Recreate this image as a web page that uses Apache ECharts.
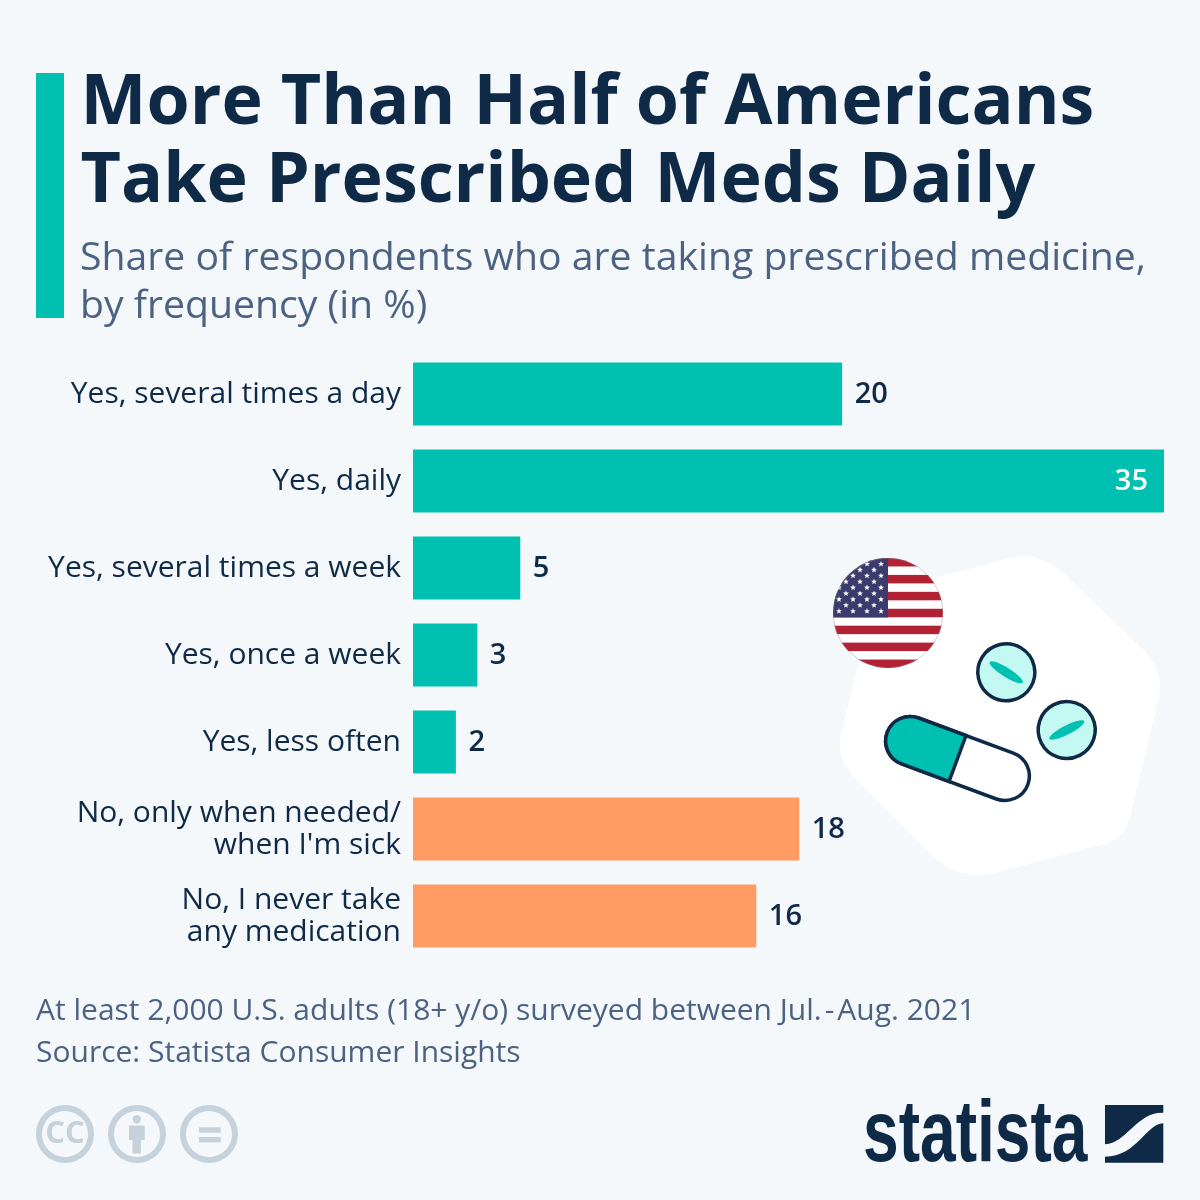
<!DOCTYPE html>
<html>
<head>
<meta charset="utf-8">
<title>More Than Half of Americans Take Prescribed Meds Daily</title>
<script src="https://cdn.jsdelivr.net/npm/echarts@6/dist/echarts.min.js"></script>
<style>
html, body { margin: 0; padding: 0; background: #f4f8fb; }
#chart { width: 1200px; height: 1200px; }
</style>
</head>
<body>
<div id="chart"></div>
<script>
var categories = [
	'Yes, several times a day',
	'Yes, daily',
	'Yes, several times a week',
	'Yes, once a week',
	'Yes, less often',
	"No, only when needed/\nwhen I'm sick",
	'No, I never take\nany medication'
];
var values = [20, 35, 5, 3, 2, 18, 16];
var answers = ['yes', 'yes', 'yes', 'yes', 'yes', 'no', 'no'];

var titleLines = ['More Than Half of Americans', 'Take Prescribed Meds Daily'];
var subtitleLines = ['Share of respondents who are taking prescribed medicine,', 'by frequency (in %)'];
var footerLines = ['At least 2,000 U.S. adults (18+ y/o) surveyed between Jul.\u200a-\u200aAug. 2021', 'Source: Statista Consumer Insights'];

var NAVY = '#0f2a47';
var TEAL = '#00c1b1';
var ORANGE = '#ff9c64';
var SLATE = '#4b6282';
var ICON = '#c5d2db';
var FONT = '"Open Sans", sans-serif';

// flag is an svg image because it needs clipping to the circle
function flagImage() {
	var s = '<svg xmlns="http://www.w3.org/2000/svg" width="220" height="220" viewBox="0 0 110 110">';
	s += '<defs><clipPath id="c"><circle cx="55" cy="55" r="55"/></clipPath></defs><g clip-path="url(#c)">';
	s += '<rect width="110" height="110" fill="#fff"/>';
	var h = 110 / 13;
	for (var i = 0; i < 13; i += 2) {
		s += '<rect y="' + (i * h) + '" width="110" height="' + h + '" fill="#b22234"/>';
	}
	s += '<rect width="55" height="59.5" fill="#3c3b6e"/>';
	for (var r = 0; r < 9; r++) {
		for (var k = 0; k < (r % 2 ? 3 : 4); k++) {
			var cx = (r % 2 ? 41 : 48) - k * 14;
			var cy = 6 + r * 5.9;
			var pts = [];
			for (var p = 0; p < 10; p++) {
				var rad = p % 2 ? 1.3 : 3.1;
				var a = -Math.PI / 2 + p * Math.PI / 5;
				pts.push((cx + rad * Math.cos(a)).toFixed(2) + ',' + (cy + rad * Math.sin(a)).toFixed(2));
			}
			s += '<polygon points="' + pts.join(' ') + '" fill="#fff"/>';
		}
	}
	s += '</g><circle cx="55" cy="55" r="54.8" fill="none" stroke="#8a8a8a" stroke-width="0.4"/></svg>';
	return 'data:image/svg+xml;charset=utf-8,' + encodeURIComponent(s);
}

function textLine(text, x, y, size, weight, color) {
	return {
		type: 'text', x: x, y: y, z: 5,
		style: {
			text: text, fill: color, font: weight + ' ' + size + 'px ' + FONT,
			textAlign: 'left', textVerticalAlign: 'middle'
		}
	};
}

function ring(cx, cy) {
	return {
		type: 'circle', z: 2,
		shape: { cx: cx, cy: cy, r: 26 },
		style: { fill: 'none', stroke: ICON, lineWidth: 6 }
	};
}

function tablet(cx, cy, angle) {
	return {
		type: 'group', x: cx, y: cy, z: 3, rotation: angle * Math.PI / 180,
		children: [
			{ type: 'circle', z: 3, shape: { cx: 0, cy: 0, r: 28.5 }, style: { fill: '#c4f8f3', stroke: NAVY, lineWidth: 3.5 } },
			{ type: 'ellipse', z: 4, shape: { cx: 0, cy: 0, rx: 19.5, ry: 4.6 }, style: { fill: TEAL } }
		]
	};
}

// the graphic component has no plain path type, so register the svg outlines as shapes
function registerOutline(name, pathData) {
	echarts.graphic.registerShape(name, echarts.graphic.extendPath(pathData, {}));
}
registerOutline('blob', 'M933.3,578.3 L1010,558.3 Q1036.7,551.7 1060,570 L1143.3,650 Q1165,671.7 1158.3,700 ' +
	'L1130,816.7 Q1123,841.7 1100,845 L993.3,873.3 Q963.3,880 936.7,860 L853.3,776.7 ' +
	'Q835,756.7 841.7,731.7 L860,656.7 Q875,595 933.3,578.3 Z');
registerOutline('logoTop', 'M1105,1105 L1163.3,1105 L1163.3,1112.7 C1136.7,1111.7 1126.7,1143.3 1105,1144.3 Z');
registerOutline('logoBottom', 'M1163.3,1123.3 C1146.7,1123.3 1136.7,1156.7 1105,1156.7 L1105,1162.7 L1163.3,1162.7 Z');
registerOutline('person', 'M129,1125.5 L144.7,1125.5 L144.7,1140 L141,1140 L141,1153.5 L132.5,1153.5 L132.5,1140 L129,1140 Z');

var decor = [
	{ type: 'rect', shape: { x: 36, y: 73, width: 28, height: 245 }, style: { fill: TEAL } },
	textLine(titleLines[0], 80.5, 104, 69.9, 'bold', NAVY),
	textLine(titleLines[1], 80.5, 182, 69.9, 'bold', NAVY),
	textLine(subtitleLines[0], 80, 259, 39.2, 'normal', SLATE),
	textLine(subtitleLines[1], 80, 307, 39.2, 'normal', SLATE),
	textLine(footerLines[0], 36, 1011, 30, 'normal', SLATE),
	textLine(footerLines[1], 36, 1053, 30, 'normal', SLATE),

	{ type: 'blob', z: 1, style: { fill: '#ffffff' } },
	{ type: 'image', z: 4, style: { image: flagImage(), x: 833, y: 558, width: 110, height: 110 } },
	tablet(1006.3, 672.3, -32),
	tablet(1066.7, 730, 27),
	{
		type: 'group', x: 957.5, y: 758.5, z: 3, rotation: -20.3 * Math.PI / 180,
		children: [
			{ type: 'rect', z: 3, shape: { x: -75, y: -24.5, width: 150, height: 49, r: 24.5 }, style: { fill: '#ffffff', stroke: NAVY, lineWidth: 3.5 } },
			{ type: 'rect', z: 4, shape: { x: -75, y: -24.5, width: 75, height: 49, r: [24.5, 0, 0, 24.5] }, style: { fill: TEAL, stroke: NAVY, lineWidth: 3.5 } }
		]
	},

	ring(65, 1134),
	ring(137, 1134),
	ring(209, 1134),
	{
		type: 'text', x: 65, y: 1134, z: 3,
		style: { text: 'CC', fill: ICON, font: 'bold 31px ' + FONT, textAlign: 'center', textVerticalAlign: 'middle' }
	},
	{ type: 'circle', z: 3, shape: { cx: 136.8, cy: 1119.3, r: 4.2 }, style: { fill: ICON } },
	{ type: 'person', z: 3, style: { fill: ICON } },
	{ type: 'rect', z: 3, shape: { x: 199, y: 1127.3, width: 21.7, height: 5.4 }, style: { fill: ICON } },
	{ type: 'rect', z: 3, shape: { x: 199, y: 1137, width: 21.7, height: 5.4 }, style: { fill: ICON } },

	// no condensed face installed, so squeeze the wordmark horizontally
	{
		type: 'text', x: 863, y: 1180.5, z: 3, scaleX: 0.737,
		style: { text: 'statista', fill: NAVY, font: 'bold 87px "Liberation Sans", sans-serif', textAlign: 'left', textVerticalAlign: 'bottom' }
	},
	{ type: 'logoTop', z: 3, style: { fill: NAVY } },
	{ type: 'logoBottom', z: 3, style: { fill: NAVY } }
];

var barData = values.map(function (v, i) {
	var isLongest = v === Math.max.apply(null, values);
	return {
		value: v,
		itemStyle: { color: answers[i] === 'yes' ? TEAL : ORANGE },
		label: {
			position: isLongest ? 'insideRight' : 'right',
			distance: isLongest ? 16 : 12.5,
			color: isLongest ? '#ffffff' : NAVY
		}
	};
});

var chart = echarts.init(document.getElementById('chart'), null, { renderer: 'canvas' });
chart.setOption({
	backgroundColor: '#f4f8fb',
	animation: false,
	textStyle: { fontFamily: FONT },
	grid: { left: 413, top: 350.5, width: 751, height: 609, containLabel: false },
	xAxis: { type: 'value', min: 0, max: 35, show: false },
	yAxis: {
		type: 'category',
		inverse: true,
		data: categories,
		axisLine: { show: false },
		axisTick: { show: false },
		axisLabel: { margin: 12, color: NAVY, fontFamily: FONT, fontSize: 30, lineHeight: 32, align: 'right', padding: [2, 0, 0, 0] }
	},
	series: [{
		type: 'bar',
		z: 6,
		barWidth: 63,
		data: barData,
		label: { show: true, fontFamily: FONT, fontSize: 29, fontWeight: 600, offset: [0, 1] }
	}],
	graphic: { elements: decor }
});
</script>
</body>
</html>
